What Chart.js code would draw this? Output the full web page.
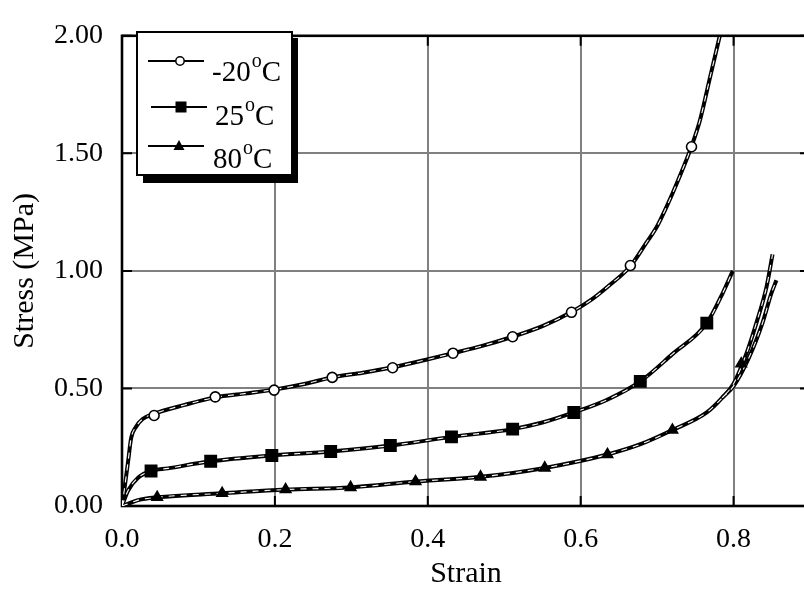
<!DOCTYPE html>
<html>
<head>
<meta charset="utf-8">
<script src="https://cdn.jsdelivr.net/npm/chart.js@4"></script>
<style>
  html, body { margin: 0; padding: 0; background: #fff; overflow: hidden; }
  #wrap { width: 830px; height: 592px; }
</style>
</head>
<body>
<div id="wrap"><canvas id="chart" width="830" height="592"></canvas></div>
<script>
// -20 C curve
const m20Strain = [0, 0.0035, 0.008, 0.012, 0.018, 0.027, 0.040, 0.082, 0.122, 0.16, 0.199, 0.24, 0.275, 0.315, 0.354, 0.395, 0.433, 0.47, 0.511, 0.55, 0.588, 0.615, 0.638, 0.665, 0.686, 0.70, 0.712, 0.728, 0.745, 0.756, 0.769, 0.782];
const m20Stress = [0, 0.08, 0.19, 0.29, 0.335, 0.37, 0.39, 0.43, 0.462, 0.478, 0.495, 0.52, 0.547, 0.567, 0.59, 0.62, 0.65, 0.68, 0.72, 0.765, 0.825, 0.88, 0.94, 1.02, 1.12, 1.19, 1.27, 1.39, 1.53, 1.64, 1.82, 2.0];
const m20MarkStrain = [0.042, 0.122, 0.199, 0.275, 0.354, 0.433, 0.511, 0.588, 0.665, 0.745];
const m20MarkStress = [0.385, 0.464, 0.493, 0.547, 0.588, 0.65, 0.72, 0.824, 1.023, 1.528];

// 25 C curve
const p25Strain = [0, 0.008, 0.021, 0.038, 0.06, 0.116, 0.196, 0.273, 0.351, 0.431, 0.511, 0.55, 0.591, 0.634, 0.678, 0.72, 0.765, 0.786, 0.799];
const p25Stress = [0, 0.066, 0.12, 0.149, 0.16, 0.19, 0.215, 0.232, 0.257, 0.294, 0.327, 0.355, 0.398, 0.451, 0.53, 0.646, 0.778, 0.907, 1.0];
const p25MarkStrain = [0.038, 0.116, 0.196, 0.273, 0.351, 0.431, 0.511, 0.591, 0.678, 0.765];
const p25MarkStress = [0.149, 0.19, 0.215, 0.232, 0.257, 0.294, 0.327, 0.398, 0.53, 0.778];

// 80 C curve (second test splits off near the end)
const p80Strain = [0, 0.01, 0.021, 0.046, 0.131, 0.214, 0.299, 0.384, 0.469, 0.553, 0.635, 0.68, 0.72, 0.765, 0.785, 0.80, 0.817, 0.83, 0.843, 0.851];
const p80Stress = [0, 0.012, 0.025, 0.037, 0.054, 0.07, 0.079, 0.104, 0.124, 0.162, 0.219, 0.265, 0.323, 0.398, 0.46, 0.52, 0.65, 0.78, 0.93, 1.07];
const p80TailStrain = [0.785, 0.80, 0.82, 0.838, 0.849, 0.856];
const p80TailStress = [0.46, 0.51, 0.63, 0.78, 0.90, 0.96];
const p80MarkStrain = [0.046, 0.131, 0.214, 0.299, 0.384, 0.469, 0.553, 0.635, 0.72, 0.81];
const p80MarkStress = [0.037, 0.054, 0.07, 0.079, 0.104, 0.124, 0.162, 0.219, 0.323, 0.605];

const xTicks = [0, 0.2, 0.4, 0.6, 0.8];
const yTicks = [0, 0.5, 1.0, 1.5, 2.0];
const legendLabels = ['-20', '25', '80'];

const FONT = '"Liberation Serif", "Times New Roman", serif';

function pts(xs, ys) { return xs.map((x, i) => ({ x: x, y: ys[i] })); }

// two overlapping test runs: dark band with broken white core
function tube(xs, ys) {
    const d = pts(xs, ys);
    return [
        { data: d, showLine: true, borderColor: '#000', borderWidth: 4, pointRadius: 0, cubicInterpolationMode: 'monotone', order: 3 },
        { data: d, showLine: true, borderColor: '#fff', borderWidth: 1.1, borderDash: [6, 6], pointRadius: 0, cubicInterpolationMode: 'monotone', order: 2 }
    ];
}

function marks(xs, ys, style, r, fill) {
    return { data: pts(xs, ys), showLine: false, pointStyle: style, pointRadius: r, pointHoverRadius: r,
             pointBackgroundColor: fill, pointBorderColor: '#000', pointBorderWidth: 1.6, order: 1 };
}

// frame, inward ticks, boxed legend with shadow
const decor = {
    id: 'decor',
    beforeDatasetsDraw(chart) {
        const ctx = chart.ctx, a = chart.chartArea;
        const xs = chart.scales.x, ys = chart.scales.y;
        ctx.save();
        ctx.strokeStyle = '#000';
        ctx.lineWidth = 2;
        xTicks.forEach(v => {
            const px = xs.getPixelForValue(v);
            ctx.beginPath();
            ctx.moveTo(px, a.bottom); ctx.lineTo(px, a.bottom - 10);
            ctx.moveTo(px, a.top); ctx.lineTo(px, a.top + 10);
            ctx.stroke();
        });
        yTicks.forEach(v => {
            const py = ys.getPixelForValue(v);
            ctx.beginPath();
            ctx.moveTo(a.left, py); ctx.lineTo(a.left + 10, py);
            ctx.moveTo(a.right, py); ctx.lineTo(a.right - 10, py);
            ctx.stroke();
        });
        ctx.lineWidth = 2.6;
        ctx.strokeRect(a.left, a.top, a.right - a.left, a.bottom - a.top);
        ctx.restore();
    },
    afterDraw(chart) {
        const ctx = chart.ctx;
        ctx.save();
        // shadow + box
        ctx.fillStyle = '#000';
        ctx.fillRect(143, 38, 155, 145);
        ctx.fillStyle = '#fff';
        ctx.fillRect(137, 32, 155, 143);
        ctx.strokeStyle = '#000';
        ctx.lineWidth = 2;
        ctx.strokeRect(137, 32, 155, 143);

        const rows = [
            { ly: 61, x0: 148, x1: 204, mx: 180, ty: 81, tx: 212, style: 'circle' },
            { ly: 107, x0: 151, x1: 207, mx: 181, ty: 125, tx: 215, style: 'rect' },
            { ly: 146, x0: 148, x1: 204, mx: 179, ty: 168, tx: 213, style: 'triangle' }
        ];
        rows.forEach((r, i) => {
            ctx.lineWidth = 1.8;
            ctx.strokeStyle = '#000';
            ctx.beginPath(); ctx.moveTo(r.x0, r.ly); ctx.lineTo(r.x1, r.ly); ctx.stroke();
            ctx.fillStyle = '#000';
            ctx.lineWidth = 1.5;
            if (r.style === 'circle') {
                ctx.beginPath(); ctx.arc(r.mx, r.ly, 4.2, 0, Math.PI * 2);
                ctx.fillStyle = '#fff'; ctx.fill(); ctx.stroke();
            } else if (r.style === 'rect') {
                ctx.fillRect(r.mx - 5.5, r.ly - 5.5, 11, 11);
            } else {
                ctx.beginPath();
                ctx.moveTo(r.mx, r.ly - 6);
                ctx.lineTo(r.mx + 5.5, r.ly + 4);
                ctx.lineTo(r.mx - 5.5, r.ly + 4);
                ctx.closePath(); ctx.fill();
            }
            ctx.fillStyle = '#000';
            ctx.textBaseline = 'alphabetic';
            ctx.textAlign = 'left';
            ctx.font = '29px ' + FONT;
            const num = legendLabels[i];
            ctx.fillText(num, r.tx, r.ty);
            const w = ctx.measureText(num).width;
            ctx.font = '20px ' + FONT;
            ctx.fillText('o', r.tx + w + 1, r.ty - 14);
            const wo = ctx.measureText('o').width;
            ctx.font = '29px ' + FONT;
            ctx.fillText('C', r.tx + w + wo + 1, r.ty);
        });
        ctx.restore();
    }
};

const datasets = [].concat(
    [marks(m20MarkStrain, m20MarkStress, 'circle', 5, '#fff'),
     marks(p25MarkStrain, p25MarkStress, 'rect', 8, '#000'),
     marks(p80MarkStrain, p80MarkStress, 'triangle', 6, '#000')],
    tube(m20Strain, m20Stress),
    tube(p25Strain, p25Stress),
    tube(p80Strain, p80Stress),
    tube(p80TailStrain, p80TailStress)
);

new Chart(document.getElementById('chart'), {
    type: 'scatter',
    data: { datasets: datasets },
    options: {
        responsive: false,
        animation: false,
        events: [],
        layout: { padding: { left: 0, right: 20, top: 23, bottom: 0 } },
        plugins: { legend: { display: false }, tooltip: { enabled: false } },
        scales: {
            x: {
                type: 'linear', min: 0, max: 0.9,
                afterBuildTicks: s => { s.ticks = xTicks.map(v => ({ value: v })); },
                afterFit: s => { s.height = 86; },
                grid: { color: '#808080', lineWidth: 2, drawTicks: false },
                border: { display: false },
                ticks: { padding: 17, color: '#000', font: { family: FONT, size: 28 }, callback: v => v.toFixed(1) },
                title: { display: true, text: 'Strain', color: '#000', font: { family: FONT, size: 30 }, padding: { top: 0, bottom: 0 } }
            },
            y: {
                type: 'linear', min: 0, max: 2,
                afterBuildTicks: s => { s.ticks = yTicks.map(v => ({ value: v })); },
                afterFit: s => { s.width = 122; },
                grid: { color: '#808080', lineWidth: 2, drawTicks: false },
                border: { display: false },
                ticks: { padding: 19, color: '#000', font: { family: FONT, size: 28 }, callback: v => v.toFixed(2) },
                title: { display: true, text: 'Stress (MPa)', color: '#000', font: { family: FONT, size: 30 }, padding: { top: 7, bottom: 0 } }
            }
        }
    },
    plugins: [decor]
});
</script>
</body>
</html>
